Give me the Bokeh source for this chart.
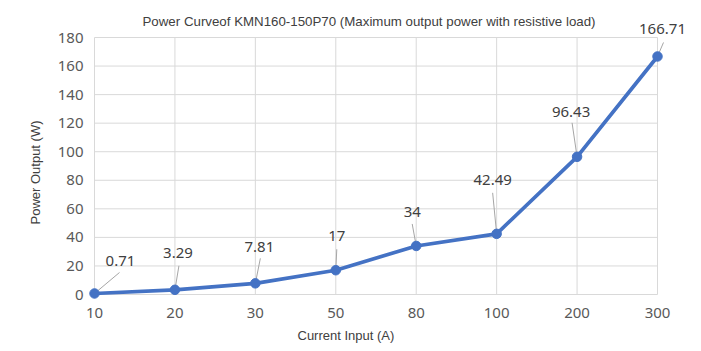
import numpy as np
from bokeh.plotting import figure
from bokeh.models import Range1d, FixedTicker, ColumnDataSource, Title
from bokeh.core.properties import value
from bokeh.embed import file_html
from bokeh.resources import INLINE

# ---- data ----
categories = ["10", "20", "30", "50", "80", "100", "200", "300"]
power = [0.71, 3.29, 7.81, 17, 34, 42.49, 96.43, 166.71]
power_labels = ["0.71", "3.29", "7.81", "17", "34", "42.49", "96.43", "166.71"]
y_ticks = [0, 20, 40, 60, 80, 100, 120, 140, 160, 180]

# ---- label placement (screen pixels relative to the point, up = positive) ----
label_dx = [26, 3, 4, 1, -4, -4, -6, 5]
label_dy = [32, 37, 36, 34, 34, 54, 45, 27]
leader_dx = [25, 4, 5, 1, -4, -4, -5, 6]
leader_dy = [21, 24, 25, 21, 22, 41, 34, 14]

BLUE = "#4472C4"
GRID = "#d9d9d9"
TICK = "#595959"
TEXT = "#404040"

idx = list(range(len(categories)))

# frame geometry (px) and padding so edge markers are not clipped
PAD = 8
plot_w, plot_h = 563, 257
pad_x = PAD * (len(idx) - 1) / plot_w
pad_y = PAD * (y_ticks[-1] - y_ticks[0]) / plot_h

p = figure(
    frame_width=plot_w + 2 * PAD, frame_height=plot_h + 2 * PAD,
    x_range=Range1d(idx[0] - pad_x, idx[-1] + pad_x),
    y_range=Range1d(y_ticks[0] - pad_y, y_ticks[-1] + pad_y),
    output_backend="svg", toolbar_location=None,
    min_border_left=94 - PAD, min_border_right=44 - PAD,
    min_border_top=37 - PAD, min_border_bottom=57 - PAD,
    background_fill_color="white", border_fill_color="white",
)
p.outline_line_color = None
p.xgrid.visible = False
p.ygrid.visible = False

# gridlines built from the tick arrays
p.multi_line(xs=[[i, i] for i in idx], ys=[[y_ticks[0], y_ticks[-1]] for _ in idx],
             line_color=GRID, line_width=1)
p.multi_line(xs=[[idx[0], idx[-1]] for _ in y_ticks], ys=[[t, t] for t in y_ticks],
             line_color=GRID, line_width=1)

src = ColumnDataSource(dict(
    x=idx, y=power, text=power_labels, dx=label_dx, dy=[-d for d in label_dy],
    llen=list(np.hypot(leader_dx, leader_dy)),
    lang=list(np.arctan2(leader_dy, leader_dx)),
))

# leader lines
p.ray(x="x", y="y", length="llen", angle="lang", length_units="screen",
      source=src, line_color="#a6a6a6", line_width=1)

# series
p.line(x="x", y="y", source=src, line_color=BLUE, line_width=3.7)
p.scatter(x="x", y="y", source=src, size=9.5, fill_color=BLUE, line_color=BLUE)

# data labels (overlay level so the top one is not clipped by the frame)
p.text(x="x", y="y", text="text", source=src, x_offset="dx", y_offset="dy",
       text_align="center", text_baseline="middle",
       text_font=value("Noto Sans"), text_font_size="15px", text_color=TEXT,
       level="overlay")

# axes
p.xaxis.ticker = FixedTicker(ticks=idx)
p.xaxis.major_label_overrides = {i: c for i, c in zip(idx, categories)}
p.yaxis.ticker = FixedTicker(ticks=y_ticks)
for ax in (p.xaxis[0], p.yaxis[0]):
    ax.axis_line_color = None
    ax.major_tick_line_color = None
    ax.minor_tick_line_color = None
    ax.major_tick_out = 0
    ax.major_tick_in = 0
    ax.minor_tick_out = 0
    ax.minor_tick_in = 0
    ax.major_label_text_font = "Noto Sans"
    ax.major_label_text_font_size = "15px"
    ax.major_label_text_color = TICK
p.xaxis.major_label_standoff = 5
p.yaxis.major_label_standoff = 3

ylab = Title(text="Power Output (W)", align="left", offset=78, standoff=24,
             text_font="Liberation Sans", text_font_size="13px",
             text_font_style="normal", text_color=TEXT)
p.add_layout(ylab, "left")

p.title.text = "Power Curveof KMN160-150P70 (Maximum output power with resistive load)"
p.title.align = "left"
p.title.offset = 142 - (94 - PAD)
p.title.standoff = 1
p.title.padding = 0
p.title.text_font = "Liberation Sans"
p.title.text_font_size = "13.3px"
p.title.text_font_style = "normal"
p.title.text_color = TEXT

xlab = Title(text="Current Input (A)", align="left", offset=297 - (94 - PAD),
             text_font="Liberation Sans", text_font_size="13px",
             text_font_style="normal", text_color=TEXT)
p.add_layout(xlab, "below")

open("out.html", "w").write(file_html(p, INLINE))
